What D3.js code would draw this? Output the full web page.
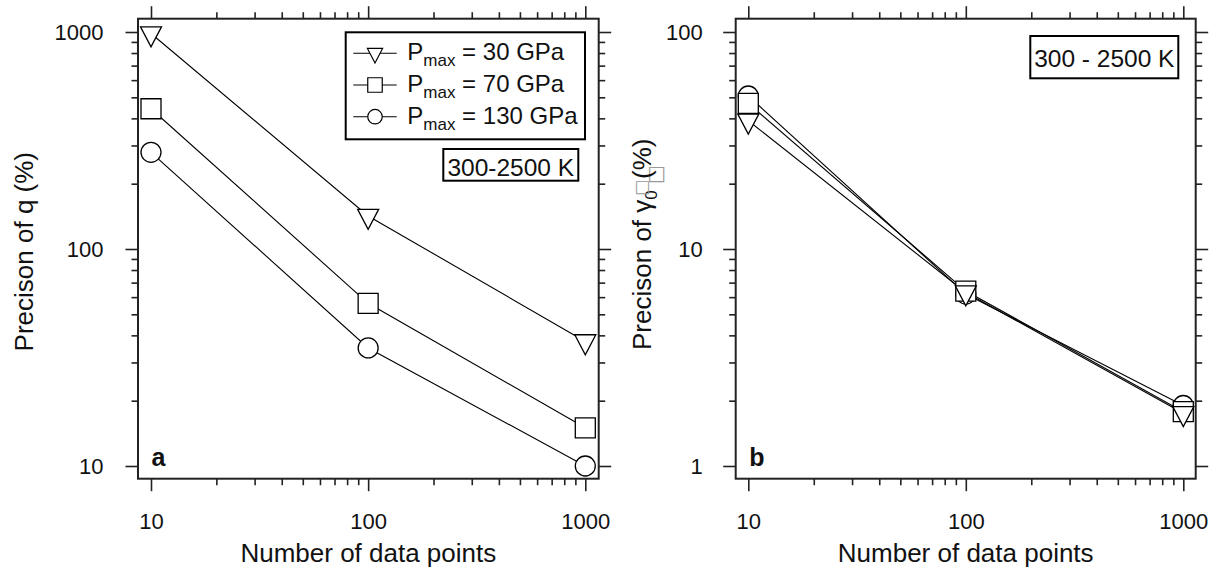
<!DOCTYPE html>
<html>
<head>
<meta charset="utf-8">
<script src="https://cdn.jsdelivr.net/npm/d3@7"></script>
<style>
  html, body { margin: 0; padding: 0; background: #fff; }
  svg { display: block; }
  text { font-family: "Liberation Sans", Arial, Helvetica, sans-serif; fill: #111; }
</style>
</head>
<body>
<svg id="chart" width="1210" height="573"></svg>
<script>
// ---------------- data ----------------
const nPoints = [10, 100, 1000];
const pressures = ["30", "70", "130"];
const symbolsBySeries = ["triangle", "square", "circle"];

// panel a: precision of q (%)
const qP30  = [984, 142, 37.5];
const qP70  = [443, 56.2, 15.0];
const qP130 = [279, 35.0, 10.0];

// panel b: precision of gamma0 (%)
const gP30  = [39.0, 6.3, 1.75];
const gP70  = [46.9, 6.4, 1.78];
const gP130 = [50.7, 6.2, 1.90];

const xTickLabels  = ["10", "100", "1000"];
const yTickLabelsA = ["10", "100", "1000"];
const yTickLabelsB = ["1", "10", "100"];
const xDomain  = [10, 1000];
const yDomainA = [10, 1000];
const yDomainB = [1, 100];

// ---------------- drawing ----------------
const svg = d3.select("#chart");
const FONT = "'Liberation Sans', Arial, Helvetica, sans-serif";
const AX = "#222";

function symbolPath(type, s) {
  const p = d3.path();
  if (type === "triangle") {           // pointing down, centred on centroid
    const w = s * 1.05, h = s;
    p.moveTo(-w / 2, -h / 3); p.lineTo(w / 2, -h / 3); p.lineTo(0, 2 * h / 3); p.closePath();
  } else if (type === "square") {
    p.rect(-s / 2, -s / 2, s, s);
  } else {
    p.arc(0, 0, s / 2, 0, 2 * Math.PI); p.closePath();
  }
  return p.toString();
}

function isMajor(d) {
  const l = Math.log10(d);
  return Math.abs(l - Math.round(l)) < 1e-9;
}

function drawPanel(cfg) {
  const g = svg.append("g");
  const x = d3.scaleLog().domain(xDomain).range([cfg.xr0, cfg.xr1]);
  const y = d3.scaleLog().domain(cfg.yDomain).range([cfg.yr0, cfg.yr1]);

  const xT = x.ticks(), yT = y.ticks();
  const xMaj = xT.filter(isMajor), xMin = xT.filter(d => !isMajor(d));
  const yMaj = yT.filter(isMajor), yMin = yT.filter(d => !isMajor(d));

  const style = sel => {
    sel.select(".domain").remove();
    sel.selectAll(".tick line").attr("stroke", AX).attr("stroke-width", 1.6);
    sel.selectAll(".tick text").attr("font-family", FONT).attr("font-size", 22).attr("fill", "#111");
  };

  // bottom
  g.append("g").attr("transform", `translate(0,${cfg.bottom})`)
    .call(d3.axisBottom(x).tickValues(xMaj).tickSize(12.5).tickPadding(22)
      .tickFormat((d, i) => xTickLabels[i])).call(style);
  g.append("g").attr("transform", `translate(0,${cfg.bottom})`)
    .call(d3.axisBottom(x).tickValues(xMin).tickSize(6.5).tickFormat("")).call(style);
  // top
  g.append("g").attr("transform", `translate(0,${cfg.top})`)
    .call(d3.axisTop(x).tickValues(xMaj).tickSize(12.5).tickFormat("")).call(style);
  g.append("g").attr("transform", `translate(0,${cfg.top})`)
    .call(d3.axisTop(x).tickValues(xMin).tickSize(6.5).tickFormat("")).call(style);
  // left
  g.append("g").attr("transform", `translate(${cfg.left},0)`)
    .call(d3.axisLeft(y).tickValues(yMaj).tickSize(12.5).tickPadding(cfg.yPad)
      .tickFormat((d, i) => cfg.yLabels[i])).call(style)
    .selectAll(".tick text").attr("dy", "0.36em");
  g.append("g").attr("transform", `translate(${cfg.left},0)`)
    .call(d3.axisLeft(y).tickValues(yMin).tickSize(6.5).tickFormat("")).call(style);
  // right
  g.append("g").attr("transform", `translate(${cfg.right},0)`)
    .call(d3.axisRight(y).tickValues(yMaj).tickSize(12.5).tickFormat("")).call(style);
  g.append("g").attr("transform", `translate(${cfg.right},0)`)
    .call(d3.axisRight(y).tickValues(yMin).tickSize(6.5).tickFormat("")).call(style);

  // frame
  g.append("rect")
    .attr("x", cfg.left).attr("y", cfg.top)
    .attr("width", cfg.right - cfg.left).attr("height", cfg.bottom - cfg.top)
    .attr("fill", "none").attr("stroke", AX).attr("stroke-width", 2);

  // series: lines first, then symbols (circle, square, triangle order)
  const series = cfg.series.map((vals, i) => ({
    sym: symbolsBySeries[i],
    pts: nPoints.map((n, j) => ({ n, v: vals[j] }))
  }));
  const line = d3.line().x(d => x(d.n)).y(d => y(d.v));
  g.selectAll("path.series").data(series).join("path")
    .attr("class", "series")
    .attr("d", d => line(d.pts))
    .attr("fill", "none").attr("stroke", "#000").attr("stroke-width", 1.1);

  const drawOrder = [2, 1, 0];
  drawOrder.forEach(i => {
    const s = series[i];
    g.selectAll(null).data(s.pts).join("path")
      .attr("transform", d => `translate(${x(d.n)},${y(d.v)})`)
      .attr("d", symbolPath(s.sym, 20))
      .attr("fill", "#fff").attr("stroke", "#000").attr("stroke-width", 1.3);
  });

  // panel letter
  g.append("text").attr("x", cfg.left + 13.5).attr("y", 466)
    .attr("font-size", 25).attr("font-weight", "bold").text(cfg.letter);

  // x title
  g.append("text").attr("x", (cfg.left + cfg.right) / 2).attr("y", 561.5)
    .attr("text-anchor", "middle").attr("font-size", 26).text("Number of data points");

  // annotation box
  const a = cfg.annot;
  g.append("rect").attr("x", a.x).attr("y", a.y).attr("width", a.w).attr("height", a.h)
    .attr("fill", "#fff").attr("stroke", "#000").attr("stroke-width", 2);
  g.append("text").attr("x", a.x + a.w / 2).attr("y", a.base)
    .attr("text-anchor", "middle").attr("font-size", 24.5).text(a.text);

  return { g, x, y };
}

// ---- panel a ----
const pa = drawPanel({
  left: 138, right: 598.7, top: 18.7, bottom: 478.7,
  xr0: 151, xr1: 585.3, yr0: 466, yr1: 32,
  yDomain: yDomainA, yLabels: yTickLabelsA, yPad: 22,
  series: [qP30, qP70, qP130], letter: "a",
  annot: { x: 443.3, y: 149, w: 135, h: 31.7, base: 175.5, text: "300-2500 K" }
});
svg.append("text")
  .attr("transform", "translate(33.3,251.7) rotate(-90)")
  .attr("text-anchor", "middle").attr("font-size", 26)
  .text("Precison of q (%)");

// legend (panel a)
const lg = pa.g.append("g");
lg.append("rect").attr("x", 345.7).attr("y", 32.3).attr("width", 239.3).attr("height", 107)
  .attr("fill", "#fff").attr("stroke", "#000").attr("stroke-width", 2);
const rowY = [53.3, 85, 116.7];
pressures.forEach((p, i) => {
  const ry = rowY[i];
  lg.append("line").attr("x1", 353.3).attr("x2", 396.7).attr("y1", ry).attr("y2", ry)
    .attr("stroke", "#000").attr("stroke-width", 1.1);
  lg.append("path").attr("transform", `translate(375,${ry})`)
    .attr("d", symbolPath(symbolsBySeries[i], 14.5))
    .attr("fill", "#fff").attr("stroke", "#000").attr("stroke-width", 1.2);
  const t = lg.append("text").attr("x", 407.3).attr("y", ry + 7).attr("font-size", 24);
  t.append("tspan").text("P");
  t.append("tspan").attr("font-size", 17).attr("dy", 6).text("max");
  t.append("tspan").attr("dy", -6).text(` = ${p} GPa`);
});

// ---- panel b ----
const pb = drawPanel({
  left: 735.7, right: 1195.7, top: 18.7, bottom: 478.7,
  xr0: 748.3, xr1: 1183.3, yr0: 466, yr1: 32,
  yDomain: yDomainB, yLabels: yTickLabelsB, yPad: 20.5,
  series: [gP30, gP70, gP130], letter: "b",
  annot: { x: 1030.3, y: 36, w: 148, h: 42.3, base: 67, text: "300 - 2500 K" }
});
const tb = svg.append("text")
  .attr("transform", "translate(651,350) rotate(-90)")
  .attr("font-size", 26);
tb.append("tspan").text("Precison of γ");
tb.append("tspan").attr("font-size", 17).attr("dy", 6).text("0");
tb.append("tspan").attr("font-size", 17).attr("x", 154).attr("y", -4).attr("fill", "#999")
  .attr("font-family", "DejaVu Sans").text("□");
tb.append("tspan").attr("font-size", 20).attr("x", 166).attr("y", 11).attr("fill", "#999")
  .attr("font-family", "DejaVu Sans").text("□");
tb.append("tspan").attr("x", 171).attr("y", 0).text("(%)");
</script>
</body>
</html>
